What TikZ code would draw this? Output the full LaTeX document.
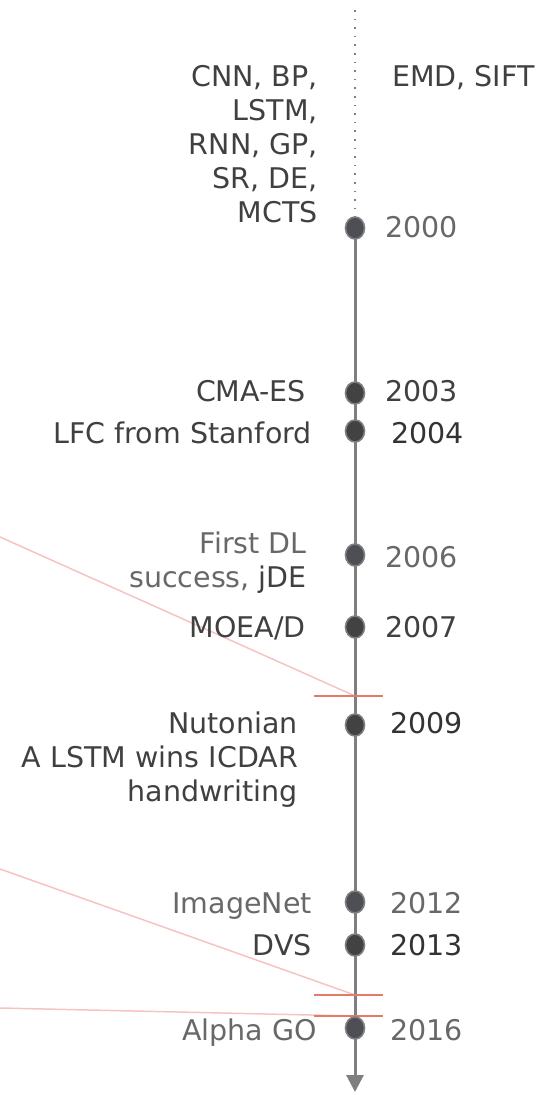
\documentclass[tikz,border=0pt]{standalone}
\usepackage{fontspec}
\setmainfont{DejaVu Sans}
\usetikzlibrary{arrows.meta,shapes.geometric}
\definecolor{txtdark}{HTML}{404040}
\definecolor{txtdarker}{HTML}{333333}
\definecolor{txtlight}{HTML}{686868}
\definecolor{axisgray}{HTML}{7F7F7F}
\definecolor{dotdark}{HTML}{424242}
\definecolor{dotlight}{HTML}{4E4F55}
\definecolor{pinkline}{HTML}{F5C4C2}
\definecolor{tickred}{HTML}{E27B68}
\begin{document}
\begin{tikzpicture}[x=1pt,y=-1pt,
  txt/.style={font=\fontsize{28.5}{34}\selectfont, inner sep=0pt},
  lbl/.style={txt, anchor=base east, text=txtdark},
  yr/.style={txt, anchor=base west, text=txtdark},
  light/.style={text=txtlight},
  darker/.style={text=txtdarker},
  evt/.style={ellipse, minimum width=19pt, minimum height=22pt, inner sep=0pt,
              draw=axisgray, line width=1.6pt, fill=dotdark},
  evtl/.style={evt, fill=dotlight},
  axisline/.style={draw=axisgray, line width=3pt},
  axisdots/.style={draw=axisgray, line width=1.6pt, dash pattern=on 1.6pt off 7pt},
  conn/.style={draw=pinkline, line width=1.5pt},
  tickmark/.style={draw=tickred, line width=2pt}]
\useasboundingbox (0,0) rectangle (551,1095);

% coordinates
\coordinate (top) at (355,10);
\coordinate (end) at (355,1092);
\coordinate (t1) at (355,696);
\coordinate (t2) at (355,995);
\coordinate (t3) at (355,1016);
\coordinate (p1) at (0,537);
\coordinate (p2) at (0,869);
\coordinate (p3) at (0,1008);

% event markers (positions)
\path (355,228) coordinate (c2000)
      (355,393) coordinate (c2003)
      (355,431) coordinate (c2004)
      (355,555) coordinate (c2006)
      (355,627) coordinate (c2007)
      (355,725) coordinate (c2009)
      (355,902) coordinate (c2012)
      (355,945) coordinate (c2013)
      (355,1028) coordinate (c2016);

% axis
\draw[axisdots] (top) -- (c2000);
\draw[axisline, -{Triangle[length=17pt,width=17pt]}] (c2000) -- (end);

% pink connectors and ticks
\draw[conn] (p1) -- (t1);
\draw[conn] (p2) -- (t2);
\draw[conn] (p3) -- (t3);
\draw[tickmark] (t1) ++(-41,0) -- ++(69,0);
\draw[tickmark] (t2) ++(-41,0) -- ++(69,0);
\draw[tickmark] (t3) ++(-41,0) -- ++(69,0);

% dots
\node[evtl] (d2000) at (c2000) {};
\node[evt]  (d2003) at (c2003) {};
\node[evt]  (d2004) at (c2004) {};
\node[evtl] (d2006) at (c2006) {};
\node[evt]  (d2007) at (c2007) {};
\node[evt]  (d2009) at (c2009) {};
\node[evtl] (d2012) at (c2012) {};
\node[evt]  (d2013) at (c2013) {};
\node[evtl] (d2016) at (c2016) {};

% left labels
\node[lbl] (l2000) at (318,86) {\begin{tabular}[t]{@{}r@{}}CNN, BP,\\ LSTM,\\ RNN, GP,\\ SR, DE,\\ MCTS\end{tabular}};
\node[lbl] (l2003) at (306,401) {CMA-ES};
\node[lbl] (l2004) at (312,443) {LFC from Stanford};
\node[lbl, light] (l2006) at (307,553) {\begin{tabular}[t]{@{}r@{}}First DL\\ success, \textcolor{txtdark}{jDE}\end{tabular}};
\node[lbl] (l2007) at (306,637) {MOEA/D};
\node[lbl] (l2009) at (298,733) {\begin{tabular}[t]{@{}r@{}}Nutonian\\ A LSTM wins ICDAR\\ handwriting\end{tabular}};
\node[lbl, light] (l2012) at (312,913) {ImageNet};
\node[lbl] (l2013) at (312,955) {DVS};
\node[lbl, light] (l2016) at (317,1040) {Alpha GO};

% right labels
\node[yr] (r2000a) at (392,86) {EMD, SIFT};
\node[yr, light] (y2000) at (385,237) {2000};
\node[yr] (y2003) at (385,401) {2003};
\node[yr, darker] (y2004) at (391,443) {2004};
\node[yr, light] (y2006) at (385,567) {2006};
\node[yr] (y2007) at (385,637) {2007};
\node[yr, darker] (y2009) at (390,733) {2009};
\node[yr, light] (y2012) at (390,913) {2012};
\node[yr, darker] (y2013) at (390,955) {2013};
\node[yr, light] (y2016) at (390,1040) {2016};
\end{tikzpicture}
\end{document}
